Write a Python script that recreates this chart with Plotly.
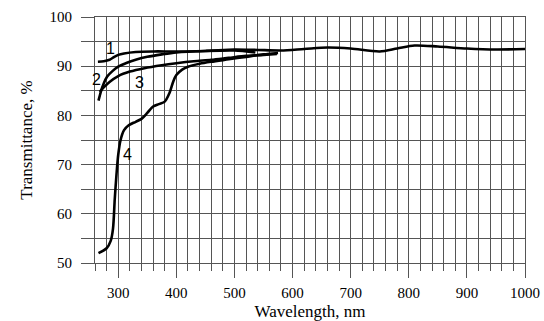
import plotly.graph_objects as go

# Curve data (wavelength nm, transmittance %)
x1 = [265, 275, 285, 292, 300, 310, 330, 360, 400, 450, 500, 540, 580, 620, 660, 700, 750, 780, 810, 850, 900, 950, 1000]
y1 = [90.9, 91.0, 91.3, 91.8, 92.3, 92.6, 92.9, 93.0, 93.0, 93.1, 93.4, 93.3, 93.2, 93.5, 93.8, 93.6, 93.0, 93.6, 94.2, 94.0, 93.6, 93.4, 93.5]

x2 = [266, 270, 275, 281, 290, 300, 315, 330, 350, 375, 400, 450, 500, 536]
y2 = [83.0, 84.8, 86.5, 87.9, 89.0, 89.9, 90.7, 91.3, 91.9, 92.4, 92.8, 93.1, 93.2, 92.8]

x3 = [268, 275, 285, 300, 320, 345, 375, 400, 430, 460, 490, 520, 550, 573]
y3 = [84.8, 85.7, 86.8, 88.0, 88.9, 89.6, 90.2, 90.6, 91.0, 91.3, 91.7, 92.1, 92.3, 92.5]

x4 = [266, 280, 287, 291, 294, 297, 300, 304, 310, 318, 330, 340, 350, 360, 370, 380, 388, 395, 400, 410, 420, 440, 460, 490, 520, 550, 575]
y4 = [52.0, 53.0, 54.5, 57, 63, 68, 72, 75, 77, 78, 78.7, 79.3, 80.5, 81.8, 82.3, 82.8, 84.5, 87, 88.2, 89.3, 89.9, 90.5, 90.9, 91.4, 91.9, 92.4, 92.7]

labels = ["1", "2", "3", "4"]
label_x = [287, 262, 337, 316]
label_y = [93.6, 87.3, 86.6, 72.0]

x_ticks = [300, 400, 500, 600, 700, 800, 900, 1000]
y_ticks = [50, 60, 70, 80, 90, 100]

SERIF = "Liberation Serif, Times New Roman, serif"
GRID = "#555555"
fig = go.Figure()
for xs, ys in [(x1, y1), (x2, y2), (x3, y3), (x4, y4)]:
    fig.add_trace(go.Scatter(x=xs, y=ys, mode="lines", line=dict(color="black", width=2.6, shape="spline", smoothing=0.8),
                             showlegend=False, hoverinfo="skip"))

for t, lx, ly in zip(labels, label_x, label_y):
    fig.add_annotation(x=lx, y=ly, text=t, showarrow=False, font=dict(family="Liberation Sans, Arial, sans-serif", size=16, color="black"))

fig.update_layout(
    width=544, height=321,
    margin=dict(l=95, r=19, t=17, b=58, autoexpand=False),
    paper_bgcolor="white", plot_bgcolor="white",
    font=dict(family=SERIF, size=15, color="black"),
    xaxis=dict(range=[260, 1000], tickvals=x_ticks, ticktext=[str(v) for v in x_ticks],
               automargin=False,
               tickfont=dict(family=SERIF, size=15, color="black"),
               ticks="outside", ticklen=14, tickcolor=GRID, tickwidth=1,
               showgrid=True, gridcolor=GRID, gridwidth=1,
               showline=True, mirror=True, linecolor=GRID, linewidth=1, zeroline=False,
               minor=dict(dtick=20, tick0=0, ticks="outside", ticklen=7, tickcolor=GRID, showgrid=True, gridcolor=GRID, gridwidth=1),
               title=dict(text="Wavelength, nm", font=dict(family=SERIF, size=17), standoff=9),
               ticklabelstandoff=2),
    yaxis=dict(range=[50, 100], tickvals=y_ticks, ticktext=[str(v) for v in y_ticks],
               automargin=False,
               tickfont=dict(family=SERIF, size=15, color="black"),
               ticks="outside", ticklen=13, tickcolor=GRID, tickwidth=1,
               showgrid=True, gridcolor=GRID, gridwidth=1,
               showline=True, mirror=True, linecolor=GRID, linewidth=1, zeroline=False,
               minor=dict(dtick=5, tick0=0, ticks="outside", ticklen=13, tickcolor=GRID, showgrid=True, gridcolor=GRID, gridwidth=1),
               title=dict(text="Transmittance, %", font=dict(family=SERIF, size=17), standoff=12),
               ticklabelstandoff=6),
)

fig.write_html("out.html")
